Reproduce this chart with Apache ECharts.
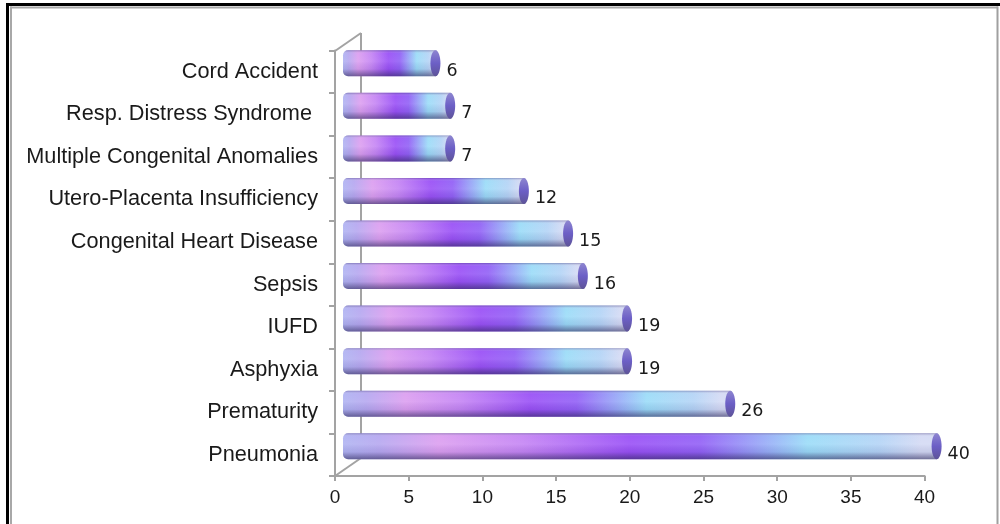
<!DOCTYPE html>
<html>
<head>
<meta charset="utf-8">
<style>html,body{margin:0;padding:0;background:#fff}#c{width:1000px;height:524px}</style>
<script src="https://cdn.jsdelivr.net/npm/echarts@6/dist/echarts.min.js"></script>
</head>
<body>
<div id="c"></div>
<script>
var categories = ['Cord Accident','Resp. Distress Syndrome ','Multiple Congenital Anomalies','Utero-Placenta Insufficiency','Congenital Heart Disease','Sepsis','IUFD','Asphyxia','Prematurity','Pneumonia'];
var values = [6,7,7,12,15,16,19,19,26,40];
var xTicks = {min:0,max:40,interval:5};

var chart = echarts.init(document.getElementById('c'),null,{renderer:'canvas'});
var AXIS='#a3a3a3';
var DEPTH=17, START=8, BAR_H=26, LIFT=8.5;

function renderBar(params, api){
  var v=api.value(0), c=api.value(1);
  var p=api.coord([v,c]), z=api.coord([0,c]);
  var x0=z[0]+START, x1=p[0]+DEPTH, y=p[1]-LIFT-BAR_H/2, h=BAR_H;
  var rx=5;
  var body=new echarts.graphic.LinearGradient(0,0,1,0,[
    {offset:0,color:'#b0b4f2'},{offset:0.06,color:'#b6a8f0'},{offset:0.16,color:'#dc9ff0'},{offset:0.30,color:'#c585f4'},
    {offset:0.48,color:'#9a50f6'},{offset:0.60,color:'#9260f6'},{offset:0.78,color:'#9bdcf8'},
    {offset:0.90,color:'#b4d4f6'},{offset:0.97,color:'#d4daf4'},{offset:1,color:'#d4daf4'}]);
  var shade=new echarts.graphic.LinearGradient(0,0,0,1,[
    {offset:0,color:'rgba(60,50,120,0.42)'},{offset:0.12,color:'rgba(255,255,255,0.06)'},
    {offset:0.42,color:'rgba(255,255,255,0.10)'},{offset:0.72,color:'rgba(40,30,90,0.08)'},
    {offset:1,color:'rgba(40,35,85,0.58)'}]);
  var capFill=new echarts.graphic.LinearGradient(0,0,0,1,[
    {offset:0,color:'#8e86d0'},{offset:0.5,color:'#6c5fc6'},{offset:1,color:'#5e5498'}]);
  return {type:'group',children:[
    {type:'rect',shape:{x:x0,y:y,width:x1-x0-rx+2,height:h,r:[rx,2,2,rx]},style:{fill:body}},
    {type:'rect',shape:{x:x0,y:y,width:x1-x0-rx+2,height:h,r:[rx,2,2,rx]},style:{fill:shade}},
    {type:'ellipse',shape:{cx:x1-rx,cy:y+h/2,rx:rx,ry:h/2},style:{fill:capFill}},
    {type:'text',style:{text:String(v),x:x1+6,y:y+h/2+8,align:'left',verticalAlign:'middle',
      fontFamily:'DejaVu Sans',fontSize:17.5,fill:'#1a1a1a'}}
  ]};
}

chart.setOption({
  animation:false,
  backgroundColor:'#fff',
  grid:{left:335,top:50.5,width:589.6,height:425.5},
  xAxis:{type:'value',min:xTicks.min,max:xTicks.max,interval:xTicks.interval,position:'bottom',
    splitLine:{show:false},
    axisLine:{show:true,lineStyle:{color:AXIS,width:2}},
    axisTick:{show:true,length:5,lineStyle:{color:AXIS,width:2}},
    axisLabel:{fontFamily:'Liberation Sans',fontSize:19,color:'#1a1a1a',margin:12}},
  yAxis:{type:'category',data:categories,inverse:true,
    axisLine:{show:true,onZero:false,lineStyle:{color:AXIS,width:2}},
    axisTick:{show:true,length:6,alignWithLabel:false,lineStyle:{color:AXIS,width:2}},
    axisLabel:{fontFamily:'Liberation Sans',fontSize:21.7,color:'#1a1a1a',margin:17,interval:0}},
  graphic:[
    {type:'rect',silent:true,z:1,shape:{x:6,y:3,width:994,height:3},style:{fill:'#000'}},
    {type:'rect',silent:true,z:1,shape:{x:6,y:3,width:3,height:521},style:{fill:'#000'}},
    {type:'rect',silent:true,z:1,shape:{x:10,y:6.5,width:988,height:2},style:{fill:'#a8a8a8'}},
    {type:'rect',silent:true,z:1,shape:{x:10,y:6.5,width:2,height:518},style:{fill:'#a8a8a8'}},
    {type:'rect',silent:true,z:1,shape:{x:996.5,y:6.5,width:2,height:518},style:{fill:'#a0a0a0'}},
    {type:'line',silent:true,z:1,shape:{x1:361,y1:33,x2:361,y2:458},style:{stroke:AXIS,lineWidth:2}},
    {type:'line',silent:true,z:1,shape:{x1:335,y1:51,x2:361,y2:33},style:{stroke:AXIS,lineWidth:2}},
    {type:'line',silent:true,z:1,shape:{x1:335,y1:476,x2:361,y2:458},style:{stroke:AXIS,lineWidth:2}}
  ],
  series:[{type:'custom',clip:false,z:5,renderItem:renderBar,
    encode:{x:0,y:1},
    data:values.map(function(v,i){return [v,i];})}]
});
</script>
</body>
</html>
